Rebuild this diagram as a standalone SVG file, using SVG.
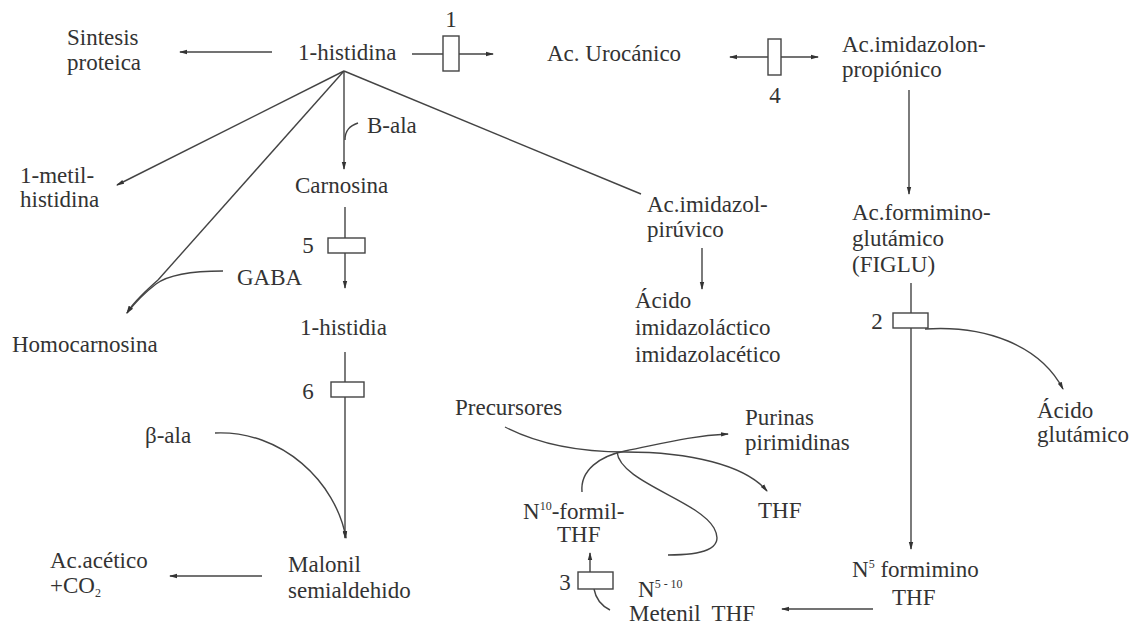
<svg xmlns="http://www.w3.org/2000/svg" width="1133" height="625" viewBox="0 0 1133 625">
  <style>
    text { font-family: "Liberation Serif", "Times New Roman", serif; font-size: 23px; fill: #333; }
    .sup { font-size: 12px; }
    .ln { fill: none; stroke: #444; stroke-width: 1.4; }
    .ah { fill: none; stroke: #444; stroke-width: 1.4; marker-end: url(#arr); }
    .ah2 { fill: none; stroke: #444; stroke-width: 1.4; marker-start: url(#arrS); marker-end: url(#arr); }
    .box { fill: #fff; stroke: #444; stroke-width: 1.4; }
  </style>
  <defs>
    <marker id="arr" viewBox="0 0 8 6" refX="7" refY="3" markerWidth="8" markerHeight="6" markerUnits="userSpaceOnUse" orient="auto">
      <path d="M0,0.8 L8,3 L0,5.2 Z" fill="#333"/>
    </marker>
    <marker id="arrS" viewBox="0 0 8 6" refX="1" refY="3" markerWidth="8" markerHeight="6" markerUnits="userSpaceOnUse" orient="auto">
      <path d="M8,0.8 L0,3 L8,5.2 Z" fill="#333"/>
    </marker>
  </defs>

  <!-- connectors -->
  <g id="connectors">
    <!-- from 1-histidina -->
    <line class="ah" x1="272" y1="52" x2="180" y2="52"/>
    <line class="ah" x1="412" y1="54" x2="493" y2="54"/>
    <line class="ah" x1="344" y1="71" x2="117" y2="185"/>
    <line class="ah" x1="344" y1="71" x2="344" y2="169"/>
    <path class="ln" d="M358 123 C350 126 345 130 345 140"/>
    <line class="ln" x1="344" y1="71" x2="641" y2="194"/>
    <line class="ln" x1="344" y1="71" x2="158" y2="280"/>
    <path class="ah" d="M158 280 C146 291 134 301 127 313"/>
    <path class="ah" d="M223 271 C192 271 168 275 156 284 C143 294 134 304 127 313"/>
    <!-- urocanico / imidazolonpropionico -->
    <line class="ah2" x1="730" y1="57" x2="818" y2="57"/>
    <line class="ah" x1="909" y1="90" x2="909" y2="194"/>
    <!-- carnosina chain -->
    <line class="ah" x1="345" y1="207" x2="345" y2="288"/>
    <line class="ah" x1="345" y1="352" x2="345" y2="538"/>
    <path class="ah" d="M215 433 C282 430 336 482 346 538"/>
    <line class="ah" x1="262" y1="576" x2="170" y2="576"/>
    <!-- imidazolpiruvico -->
    <line class="ah" x1="702" y1="248" x2="702" y2="289"/>
    <!-- FIGLU chain -->
    <line class="ah" x1="911" y1="283" x2="911" y2="549"/>
    <path class="ah" d="M925 329 C985 325 1040 345 1063 389"/>
    <line class="ah" x1="873" y1="609" x2="782" y2="609"/>
    <!-- folate cycle -->
    <path class="ah" d="M505 427 C540 445 580 452 625 452 C690 452 745 465 767 491"/>
    <path class="ah" d="M582 492 C580 470 600 456 625 451 C665 443 690 436 728 434"/>
    <path class="ln" d="M617 452 C620 482 698 500 714 528 C726 550 700 555 668 555"/>
    <line class="ah" x1="590" y1="572" x2="590" y2="553"/>
    <path class="ln" d="M594 589 C596 600 602 606 610 610"/>
  </g>

  <!-- enzyme steps -->
  <g id="step1">
    <rect class="box" x="443" y="36" width="16" height="35"/>
    <text x="451" y="27" text-anchor="middle">1</text>
  </g>
  <g id="step4">
    <rect class="box" x="768" y="39" width="13" height="36"/>
    <text x="775" y="103" text-anchor="middle">4</text>
  </g>
  <g id="step5">
    <rect class="box" x="328" y="238" width="37" height="15"/>
    <text x="308" y="253" text-anchor="middle">5</text>
  </g>
  <g id="step6">
    <rect class="box" x="331" y="382" width="33" height="15"/>
    <text x="308" y="399" text-anchor="middle">6</text>
  </g>
  <g id="step2">
    <rect class="box" x="893" y="313" width="35" height="15"/>
    <text x="877" y="329" text-anchor="middle">2</text>
  </g>
  <g id="step3">
    <rect class="box" x="578" y="572" width="35" height="17"/>
    <text x="565" y="590" text-anchor="middle">3</text>
  </g>

  <!-- compounds -->
  <g id="sintesis"><text x="67" y="45">Sintesis</text><text x="67" y="70">proteica</text></g>
  <g id="histidina"><text x="298" y="60">1-histidina</text></g>
  <g id="urocanico"><text x="547" y="61">Ac. Urocánico</text></g>
  <g id="imidazolonpropionico"><text x="842" y="52">Ac.imidazolon-</text><text x="842" y="77">propiónico</text></g>
  <g id="metilhistidina"><text x="20" y="183">1-metil-</text><text x="20" y="207">histidina</text></g>
  <g id="bala"><text x="367" y="133">B-ala</text></g>
  <g id="carnosina"><text x="295" y="193">Carnosina</text></g>
  <g id="imidazolpiruvico"><text x="647" y="212">Ac.imidazol-</text><text x="647" y="237">pirúvico</text></g>
  <g id="formiminoglutamico"><text x="852" y="220">Ac.formimino-</text><text x="852" y="246">glutámico</text><text x="852" y="272">(FIGLU)</text></g>
  <g id="gaba"><text x="237" y="285">GABA</text></g>
  <g id="homocarnosina"><text x="12" y="352">Homocarnosina</text></g>
  <g id="histidia"><text x="300" y="335">1-histidia</text></g>
  <g id="imidazolactico"><text x="635" y="308">Ácido</text><text x="635" y="335">imidazoláctico</text><text x="635" y="362">imidazolacético</text></g>
  <g id="acidoglutamico"><text x="1037" y="418">Ácido</text><text x="1037" y="442">glutámico</text></g>
  <g id="betaala"><text x="145" y="443">β-ala</text></g>
  <g id="precursores"><text x="455" y="415">Precursores</text></g>
  <g id="purinas"><text x="745" y="425">Purinas</text><text x="745" y="450">pirimidinas</text></g>
  <g id="formilthf"><text x="523" y="519">N<tspan class="sup" dy="-9">10</tspan><tspan dy="9">-formil-</tspan></text><text x="557" y="542">THF</text></g>
  <g id="thf"><text x="758" y="518">THF</text></g>
  <g id="malonil"><text x="288" y="572">Malonil</text><text x="288" y="598">semialdehido</text></g>
  <g id="acetico"><text x="50" y="568">Ac.acético</text><text x="50" y="593">+CO<tspan class="sup" dy="4">2</tspan></text></g>
  <g id="forminothf"><text x="852" y="577">N<tspan class="sup" dy="-9">5</tspan><tspan dy="9"> formimino</tspan></text><text x="892" y="605">THF</text></g>
  <g id="metenilthf"><text x="638" y="597">N<tspan class="sup" dy="-9">5 - 10</tspan></text><text x="629" y="621">Metenil&#160; THF</text></g>
</svg>
